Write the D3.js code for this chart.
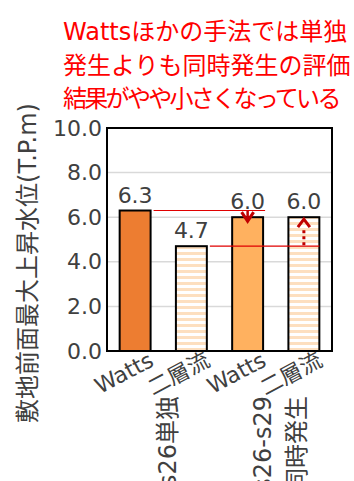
<!DOCTYPE html>
<html>
<head>
<meta charset="utf-8">
<script src="https://cdn.jsdelivr.net/npm/d3@7"></script>
<style>
  html, body { margin: 0; padding: 0; background: #fff; }
  svg { display: block; }
</style>
</head>
<body>
<svg id="chart" width="354" height="481"></svg>
<script>
// Maximum rise of water level in front of the site, by method and scenario
const methods = ["Watts", "二層流", "Watts", "二層流"];
const scenarioOfBar = [0, 0, 1, 1];
const scenarioLabels = [["s26単独"], ["s26-s29", "同時発生"]];
const values = [6.3, 4.7, 6.0, 6.0];
const yTicks = [0, 2, 4, 6, 8, 10];
const titleLines = [
  "Wattsほかの手法では単独",
  "発生よりも同時発生の評価",
  "結果がやや小さくなっている"
];
const yTitle = "敷地前面最大上昇水位(T.P.m)";
// comparison: level of bar `from` carried over to bar `to`
const comparisons = [{ from: 0, to: 2, dotted: false }, { from: 1, to: 3, dotted: true }];

const FONT = "'DejaVu Sans','Noto Sans CJK JP',sans-serif";
const TEXT = "#404040";
const svg = d3.select("#chart");

const plot = { left: 107, right: 332, top: 128, bottom: 351 };
const x = d3.scaleBand()
  .domain(d3.range(values.length))
  .range([plot.left, plot.right])
  .paddingInner(0.45)
  .paddingOuter(0.225);
const y = d3.scaleLinear().domain([0, 10]).range([plot.bottom, plot.top]);
const bw = x.bandwidth();
const cx = i => x(i) + bw / 2;

// stripe pattern for the two-layer-flow bars
const defs = svg.append("defs");
const pat = defs.append("pattern")
  .attr("id", "stripes")
  .attr("patternUnits", "userSpaceOnUse")
  .attr("width", 8).attr("height", 6);
pat.append("rect").attr("width", 8).attr("height", 6).attr("fill", "#fff");
pat.append("rect").attr("width", 8).attr("height", 3).attr("fill", "#fddfbf");

// title
svg.append("g").selectAll("text")
  .data(titleLines)
  .join("text")
  .attr("x", 63)
  .attr("y", (d, i) => 40 + i * 33.5)
  .attr("fill", "#ff0000")
  .attr("font-family", FONT)
  .attr("font-size", 24)
  .attr("letter-spacing", (d, i) => i === 2 ? -2.7 : 0)
  .text(d => d);

// gridlines
svg.append("g").selectAll("line")
  .data(yTicks.filter(t => t > 0 && t < 10))
  .join("line")
  .attr("x1", plot.left).attr("x2", plot.right)
  .attr("y1", d => y(d)).attr("y2", d => y(d))
  .attr("stroke", "#d9d9d9").attr("stroke-width", 1.5);

// y axis tick labels
const yAxis = d3.axisLeft(y).tickValues(yTicks).tickFormat(d3.format(".1f")).tickSize(0).tickPadding(5);
const yg = svg.append("g").attr("transform", `translate(${plot.left},0)`).call(yAxis);
yg.select(".domain").remove();
yg.selectAll("text")
  .attr("font-family", FONT).attr("font-size", 22).attr("fill", TEXT);

// bars
function fillFor(i) {
  if (methods[i] !== "Watts") return "url(#stripes)";
  return scenarioOfBar[i] === 0 ? "#ed7d31" : "#ffb15f";
}
svg.append("g").selectAll("rect")
  .data(values)
  .join("rect")
  .attr("x", (d, i) => x(i))
  .attr("y", d => y(d))
  .attr("width", bw)
  .attr("height", d => y(0) - y(d))
  .attr("fill", (d, i) => fillFor(i))
  .attr("stroke", "#000").attr("stroke-width", 2);

// plot frame
svg.append("rect")
  .attr("x", plot.left).attr("y", plot.top)
  .attr("width", plot.right - plot.left).attr("height", plot.bottom - plot.top)
  .attr("fill", "none").attr("stroke", "#000").attr("stroke-width", 2);

// value labels
svg.append("g").selectAll("text")
  .data(values)
  .join("text")
  .attr("x", (d, i) => cx(i))
  .attr("y", d => y(d) - 8)
  .attr("text-anchor", "middle")
  .attr("font-family", FONT).attr("font-size", 22).attr("fill", TEXT)
  .text(d => d3.format(".1f")(d));

// comparison lines and arrows
const cg = svg.append("g");
comparisons.forEach(c => {
  const ly = y(values[c.from]);
  cg.append("line")
    .attr("x1", x(c.from) + bw + 3).attr("x2", x(c.to) + bw + (c.dotted ? 0 : 2))
    .attr("y1", ly).attr("y2", ly)
    .attr("stroke", "#e00000").attr("stroke-width", 1.2);
  const ax = cx(c.to);
  const ty = y(values[c.to]);
  if (ly < ty) {
    // downward arrow onto the bar top
    const tip = ty + 4;
    cg.append("line").attr("x1", ax).attr("x2", ax).attr("y1", ly).attr("y2", tip - 2)
      .attr("stroke", "#c00000").attr("stroke-width", 2.5);
    cg.append("path")
      .attr("d", `M${ax - 6},${tip - 9}L${ax},${tip}L${ax + 6},${tip - 9}`)
      .attr("fill", "none").attr("stroke", "#c00000").attr("stroke-width", 3);
  } else {
    // upward arrow from the carried level to the bar top
    const tip = ty + 2;
    cg.append("path")
      .attr("d", `M${ax - 6},${tip + 8}L${ax},${tip}L${ax + 6},${tip + 8}`)
      .attr("fill", "none").attr("stroke", "#c00000").attr("stroke-width", 3);
    cg.append("line").attr("x1", ax).attr("x2", ax).attr("y1", tip + 11).attr("y2", ly - 1)
      .attr("stroke", "#c00000").attr("stroke-width", 3)
      .attr("stroke-dasharray", c.dotted ? "3,3" : null);
  }
});

// category labels (rotated)
svg.append("g").selectAll("text")
  .data(methods)
  .join("text")
  .attr("transform", (d, i) => `translate(${cx(i) + 20},365) rotate(-28)`)
  .attr("text-anchor", "end")
  .attr("font-family", FONT).attr("font-size", 22).attr("fill", TEXT)
  .text(d => d);

// scenario group labels (vertical, running off the bottom edge)
scenarioLabels.forEach((lines, gi) => {
  const idx = scenarioOfBar.map((s, i) => s === gi ? i : -1).filter(i => i >= 0);
  const mid = d3.mean(idx, cx);
  const spacing = 34;
  const t = svg.append("text")
    .attr("transform", `translate(${mid + 4 - (lines.length - 1) * spacing / 2},396) rotate(-90)`)
    .attr("text-anchor", "end")
    .attr("font-family", FONT).attr("font-size", 24).attr("fill", TEXT);
  lines.forEach((ln, li) => {
    t.append("tspan").attr("x", 0).attr("y", li * spacing).attr("dy", "0.35em").text(ln);
  });
});

// y axis title
svg.append("text")
  .attr("transform", "translate(28,263) rotate(-90)")
  .attr("text-anchor", "middle")
  .attr("dy", "0.35em")
  .attr("font-family", FONT).attr("font-size", 24).attr("fill", TEXT)
  .text(yTitle);
</script>
</body>
</html>
